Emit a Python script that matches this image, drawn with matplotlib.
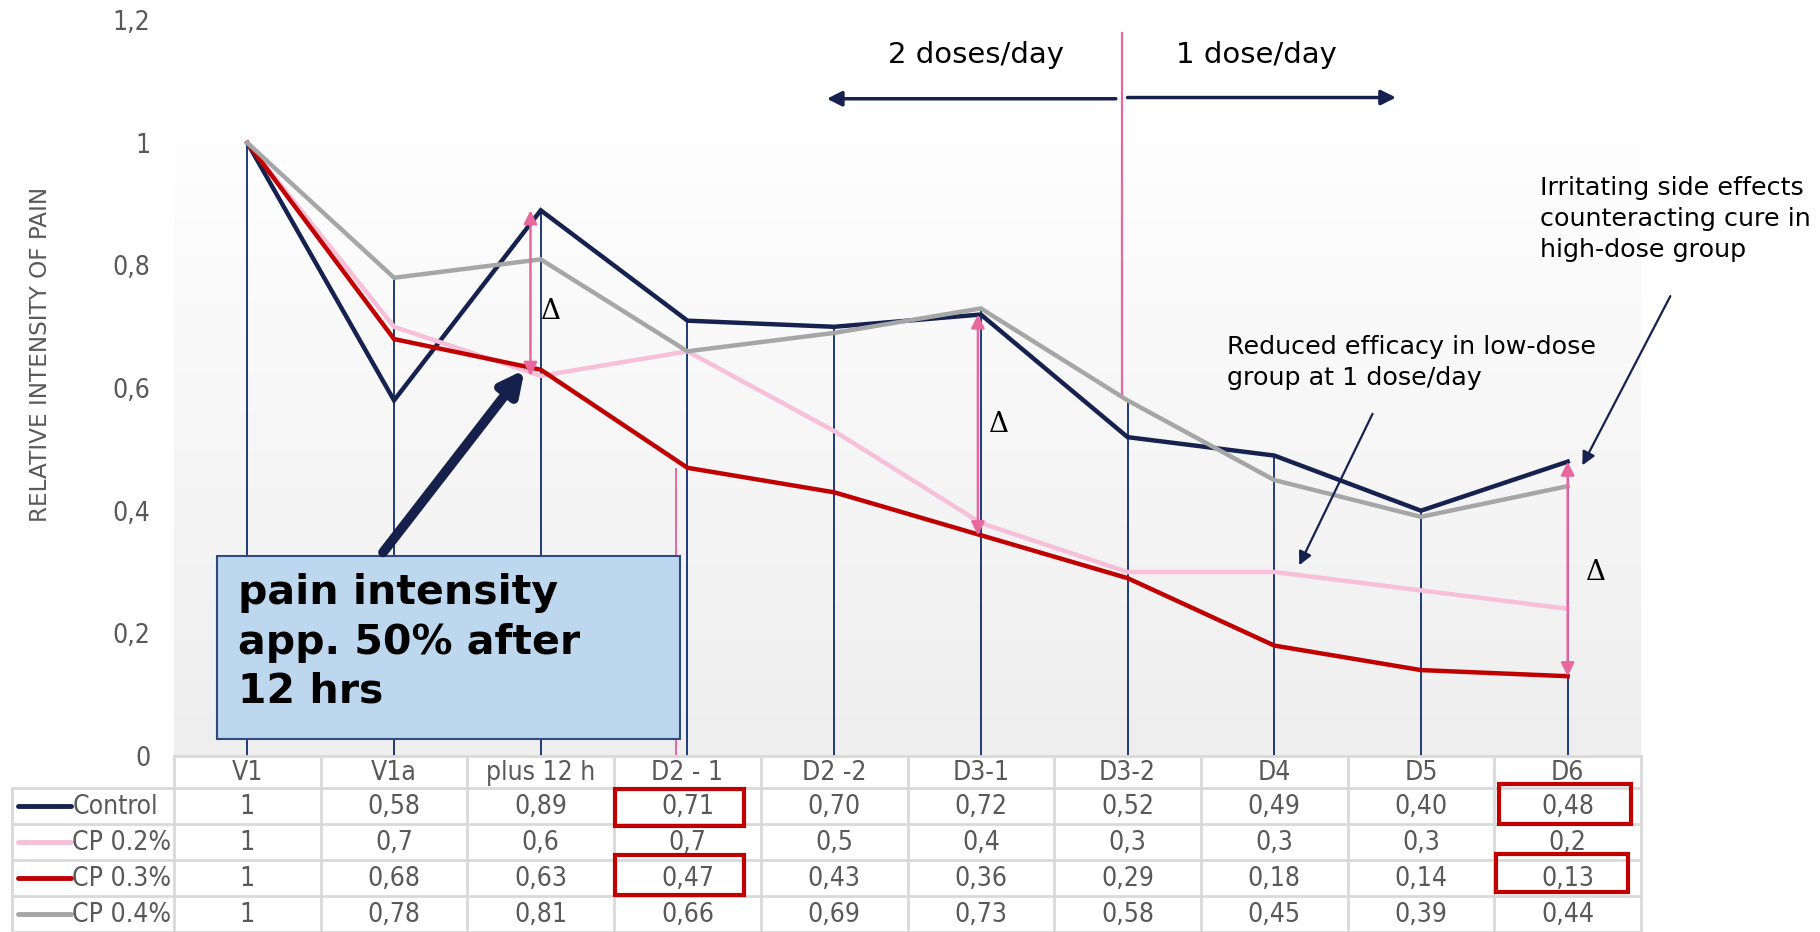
import matplotlib
matplotlib.use('Agg')
import matplotlib.pyplot as plt
import numpy as np
from matplotlib import font_manager
from matplotlib.patches import Rectangle
from matplotlib.colors import LinearSegmentedColormap

# ---------------- data ----------------
categories = ['V1', 'V1a', 'plus 12 h', 'D2 - 1', 'D2 -2', 'D3-1', 'D3-2', 'D4', 'D5', 'D6']
series_names = ['Control', 'CP 0.2%', 'CP 0.3%', 'CP 0.4%']
control = [1, 0.58, 0.89, 0.71, 0.70, 0.72, 0.52, 0.49, 0.40, 0.48]
cp02 = [1, 0.70, 0.62, 0.66, 0.53, 0.38, 0.30, 0.30, 0.27, 0.24]
cp03 = [1, 0.68, 0.63, 0.47, 0.43, 0.36, 0.29, 0.18, 0.14, 0.13]
cp04 = [1, 0.78, 0.81, 0.66, 0.69, 0.73, 0.58, 0.45, 0.39, 0.44]
table_control = ['1', '0,58', '0,89', '0,71', '0,70', '0,72', '0,52', '0,49', '0,40', '0,48']
table_cp02 = ['1', '0,7', '0,6', '0,7', '0,5', '0,4', '0,3', '0,3', '0,3', '0,2']
table_cp03 = ['1', '0,68', '0,63', '0,47', '0,43', '0,36', '0,29', '0,18', '0,14', '0,13']
table_cp04 = ['1', '0,78', '0,81', '0,66', '0,69', '0,73', '0,58', '0,45', '0,39', '0,44']
y_ticks = [0, 0.2, 0.4, 0.6, 0.8, 1.0, 1.2]
y_tick_labels = ['0', '0,2', '0,4', '0,6', '0,8', '1', '1,2']

colors = ['#15214f', '#f7bfd8', '#c00000', '#a6a6a6']
pink = '#e8689e'
navy = '#15214f'
gray_txt = '#595959'

# condensed font for ticks/table
names = {f.name for f in font_manager.fontManager.ttflist}
if 'Liberation Sans Narrow' in names:
    cond = dict(family='Liberation Sans Narrow')
else:
    cond = dict(family='DejaVu Sans', stretch='condensed')
tfs = 19

W, H = 1820, 932
fig = plt.figure(figsize=(W / 100, H / 100), dpi=100)

x0, x1 = 174, 1641
y0px, ytop = 755.9, 20.3
ax = fig.add_axes([x0 / W, 1 - y0px / H, (x1 - x0) / W, (y0px - ytop) / H])
ax.set_xlim(-0.5, 9.5)
ax.set_ylim(0, 1.2)
for s in ax.spines.values():
    s.set_visible(False)
ax.set_xticks([])
ax.set_yticks(y_ticks)
ax.set_yticklabels(y_tick_labels, color=gray_txt, fontsize=tfs, **cond)
ax.tick_params(axis='y', length=0, pad=17)

# background gradient
cmap = LinearSegmentedColormap.from_list('bg', ['#eeeeee', '#ffffff'])
grad = np.linspace(0, 1, 256).reshape(-1, 1)
ax.imshow(grad, extent=(-0.5, 9.5, 0, 1.06), origin='lower', cmap=cmap,
          aspect='auto', zorder=0)

x = np.arange(len(categories))
series = [control, cp02, cp03, cp04]
top = np.max(np.array(series), axis=0)
ax.vlines(x, 0, top, color='#1f3a78', lw=1.4, zorder=2)

for vals, c in zip(series, colors):
    ax.plot(x, vals, color=c, lw=3.2, zorder=3, solid_joinstyle='miter')

# pink lines
ax.vlines(2.925, 0, cp03[3], color=pink, lw=1.4, zorder=2)
ax.plot([5.96, 5.96], [0.59, 1.18], color=pink, lw=1.6, zorder=4, clip_on=False)

# delta arrows
for xa, ya, yb, xt, yt in [(1.93, control[2], cp02[2], 2.07, 0.725),
                           (4.98, control[5], cp03[5], 5.12, 0.54),
                           (9.0, control[9], cp03[9], 9.19, 0.30)]:
    ax.annotate('', xy=(xa, ya), xytext=(xa, yb),
                arrowprops=dict(arrowstyle='<|-|>', color=pink, lw=1.8,
                                mutation_scale=20, shrinkA=0, shrinkB=0), zorder=4)
    ax.text(xt, yt, 'Δ', fontsize=20, family='DejaVu Serif', ha='center', va='center', zorder=4)

# dose arrows
ax.annotate('', xy=(3.95, 1.072), xytext=(5.92, 1.072),
            arrowprops=dict(arrowstyle='-|>', color=navy, lw=2.5, mutation_scale=22,
                            shrinkA=0, shrinkB=0), annotation_clip=False)
ax.annotate('', xy=(7.83, 1.074), xytext=(6.0, 1.074),
            arrowprops=dict(arrowstyle='-|>', color=navy, lw=2.5, mutation_scale=22,
                            shrinkA=0, shrinkB=0), annotation_clip=False)
ax.text(4.97, 1.144, '2 doses/day', fontsize=21, ha='center', va='center')
ax.text(6.88, 1.144, '1 dose/day', fontsize=21, ha='center', va='center')

# box
ax.add_patch(Rectangle((-0.206, 0.027), 3.156, 0.299, facecolor='#bdd7ee',
                       edgecolor='#2f4b7c', lw=1.5, zorder=5))
ax.text(-0.065, 0.298, 'pain intensity\napp. 50% after\n12 hrs', fontsize=29.5,
        fontweight='bold', ha='left', va='top', linespacing=1.3, zorder=6)
ax.annotate('', xy=(1.89, 0.63), xytext=(0.925, 0.332),
            arrowprops=dict(arrowstyle='-|>', color='#15214a', lw=7,
                            mutation_scale=34, shrinkA=0, shrinkB=0), zorder=6)

# annotations
ax.text(6.68, 0.642, 'Reduced efficacy in low-dose\ngroup at 1 dose/day', fontsize=18.3,
        ha='left', va='center', linespacing=1.38, zorder=6)
ax.annotate('', xy=(7.17, 0.311), xytext=(7.67, 0.558),
            arrowprops=dict(arrowstyle='-|>', color=navy, lw=1.6, mutation_scale=20,
                            shrinkA=0, shrinkB=0), zorder=6)
ax.text(8.81, 0.876, 'Irritating side effects\ncounteracting cure in\nhigh-dose group', fontsize=18.3,
        ha='left', va='center', linespacing=1.38, zorder=6, clip_on=False)
ax.annotate('', xy=(9.10, 0.474), xytext=(9.70, 0.75),
            arrowprops=dict(arrowstyle='-|>', color=navy, lw=1.6, mutation_scale=20,
                            shrinkA=0, shrinkB=0), zorder=6, annotation_clip=False)

fig.text(41 / W, 1 - 354 / H, 'RELATIVE INTENSITY OF PAIN', rotation=90, ha='center',
         va='center', fontsize=16.7, color=gray_txt)

# ---------------- table ----------------
tl = 12
left_w = (x0 - tl) / ((x1 - x0) / 10)
tax = fig.add_axes([tl / W, 0, (x1 - tl) / W, (H - y0px) / H])
tax.set_xlim(-0.5 - left_w, 9.5)
tax.set_ylim(H - y0px, 0)
tax.axis('off')
hdr = 32
rowh = (H - y0px - hdr) / 4
grid_c = '#d9d9d9'
lwg = 2.0
# horizontal lines
tax.plot([-0.5, 9.5], [0, 0], color=grid_c, lw=lwg, clip_on=False)
for k in range(5):
    yy = hdr + k * rowh
    tax.plot([-0.5 - left_w, 9.5], [yy, yy], color=grid_c, lw=lwg, clip_on=False)
# vertical lines
for i in range(11):
    tax.plot([i - 0.5, i - 0.5], [0, H - y0px], color=grid_c, lw=lwg, clip_on=False)
tax.plot([-0.5 - left_w] * 2, [hdr, H - y0px], color=grid_c, lw=lwg, clip_on=False)

for i, c in enumerate(categories):
    tax.text(i, hdr / 2 + 1, c, ha='center', va='center', fontsize=tfs, color=gray_txt, **cond)
tables = [table_control, table_cp02, table_cp03, table_cp04]
for r, (name, vals, col) in enumerate(zip(series_names, tables, colors)):
    yc = hdr + (r + 0.5) * rowh
    tax.plot([-0.5 - left_w + 0.04, -0.5 - left_w + 0.40], [yc, yc], color=col, lw=3.5,
             solid_capstyle='round')
    tax.text(-0.5 - left_w + 0.41, yc + 1, name, ha='left', va='center', fontsize=tfs,
             color=gray_txt, **cond)
    for i, v in enumerate(vals):
        tax.text(i, yc + 1, v, ha='center', va='center', fontsize=tfs, color=gray_txt, **cond)

# red highlight boxes
for (bx0, bx1, by0, by1) in [(2.506, 3.386, 33, 70), (2.506, 3.386, 99, 139),
                             (8.53, 9.43, 28, 68), (8.51, 9.41, 98, 136)]:
    tax.add_patch(Rectangle((bx0, by0), bx1 - bx0, by1 - by0, fill=False,
                            edgecolor='#c00000', lw=3, zorder=5, clip_on=False))

fig.savefig('out.png', dpi=100)
